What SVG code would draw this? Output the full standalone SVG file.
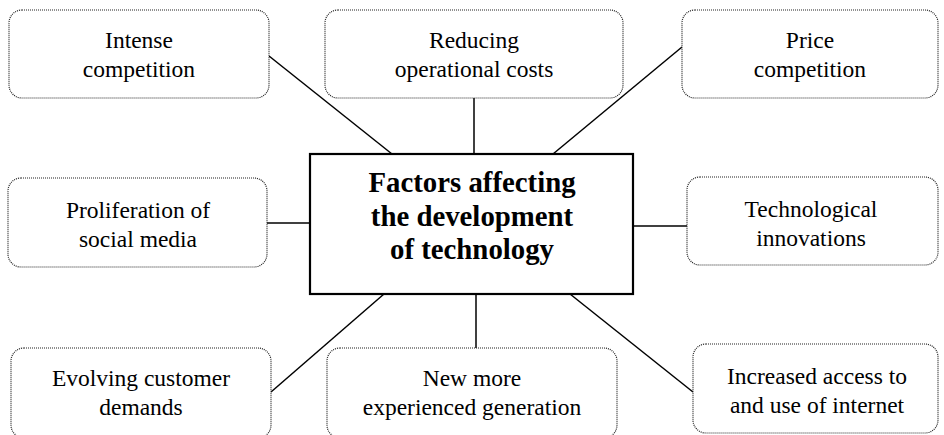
<svg xmlns="http://www.w3.org/2000/svg" width="944" height="435" viewBox="0 0 944 435">
<style>
.box{fill:#fff;stroke:#222;stroke-width:1.2;stroke-dasharray:1 1}
.t{font-family:"Liberation Serif","Times New Roman",serif;font-size:23.5px;fill:#000;text-anchor:middle}
.c{font-family:"Liberation Serif","Times New Roman",serif;font-size:28.8px;font-weight:bold;fill:#000;text-anchor:middle}
.ln{stroke:#000;stroke-width:1.5;fill:none}
</style>
<rect width="944" height="435" fill="#fff"/>
<g id="connectors">
<line class="ln" x1="269" y1="56" x2="392" y2="154"/>
<line class="ln" x1="474" y1="98" x2="474" y2="154"/>
<line class="ln" x1="682" y1="47" x2="553" y2="154"/>
<line class="ln" x1="267" y1="223" x2="310" y2="223"/>
<line class="ln" x1="633" y1="226" x2="687" y2="226"/>
<line class="ln" x1="384" y1="294" x2="271" y2="392"/>
<line class="ln" x1="476" y1="294" x2="476" y2="348"/>
<line class="ln" x1="570" y1="294" x2="693" y2="392"/>
</g>
<g id="center">
<rect x="310" y="154" width="323" height="140" fill="#fff" stroke="#000" stroke-width="2.2"/>
<text class="c" x="472" y="192">Factors affecting</text>
<text class="c" x="472" y="226">the development</text>
<text class="c" x="472" y="259">of technology</text>
</g>
<g id="n1">
<rect class="box" x="9" y="10" width="260" height="88" rx="13"/>
<text class="t" x="139" y="48">Intense</text>
<text class="t" x="139" y="77">competition</text>
</g>
<g id="n2">
<rect class="box" x="325" y="10" width="298" height="88" rx="13"/>
<text class="t" x="474" y="48">Reducing</text>
<text class="t" x="474" y="77">operational costs</text>
</g>
<g id="n3">
<rect class="box" x="682" y="10" width="256" height="88" rx="13"/>
<text class="t" x="810" y="48">Price</text>
<text class="t" x="810" y="77">competition</text>
</g>
<g id="n4">
<rect class="box" x="8" y="178" width="259" height="89" rx="13"/>
<text class="t" x="138" y="218">Proliferation of</text>
<text class="t" x="138" y="247">social media</text>
</g>
<g id="n5">
<rect class="box" x="687" y="177" width="251" height="88" rx="13"/>
<text class="t" x="811" y="217">Technological</text>
<text class="t" x="811" y="246">innovations</text>
</g>
<g id="n6">
<rect class="box" x="11" y="348" width="260" height="90" rx="13"/>
<text class="t" x="141" y="386">Evolving customer</text>
<text class="t" x="141" y="415">demands</text>
</g>
<g id="n7">
<rect class="box" x="327" y="348" width="290" height="90" rx="13"/>
<text class="t" x="472" y="386">New more</text>
<text class="t" x="472" y="415">experienced generation</text>
</g>
<g id="n8">
<rect class="box" x="693" y="344" width="245" height="89" rx="13"/>
<text class="t" x="817" y="384">Increased access to</text>
<text class="t" x="817" y="413">and use of internet</text>
</g>
</svg>
